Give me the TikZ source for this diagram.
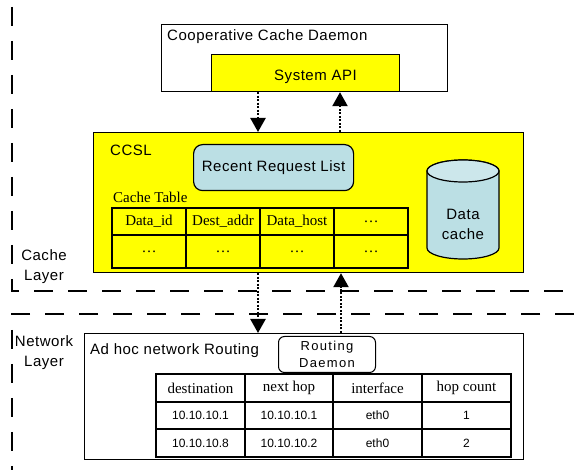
\documentclass[tikz,border=0pt]{standalone}
\usepackage{fontspec}
\setmainfont{Liberation Serif}
\setsansfont{Liberation Sans}
\newfontfamily\widesans[LetterSpace=3.5]{Liberation Sans}
\newfontfamily\widersans[LetterSpace=10]{Liberation Sans}
\usetikzlibrary{arrows.meta}

\definecolor{apiyellow}{RGB}{255,255,0}
\definecolor{listblue}{RGB}{187,223,228}

\tikzset{
        block/.style={draw, line width=1.2pt, rectangle, inner sep=0pt, anchor=north west},
        big/.style={font=\widesans\fontsize{15}{20}\selectfont, inner sep=0pt},
        small/.style={font=\sffamily\fontsize{12}{14}\selectfont},
        tab/.style={font=\rmfamily\fontsize{15}{18}\selectfont},
        ctcell/.style={draw, line width=1.4pt, inner sep=0pt, minimum width=74pt, minimum height=#1, tab},
        rtcell/.style={draw, line width=1.4pt, inner sep=0pt, minimum width=89pt, minimum height=28pt},
        flow/.style={line width=2.4pt, dash pattern=on 2pt off 1.5pt, -{Triangle[length=14pt,width=15pt]}},
        layer/.style={line width=1.3pt, dash pattern=on 19pt off 15pt},
        drum/.style={draw, line width=1.2pt, fill=listblue},
}

\begin{document}
\begin{tikzpicture}[x=1pt, y=-1pt]
        \useasboundingbox (0,0) rectangle (574,470);

        \node[block, minimum width=286pt, minimum height=67pt] (daemon) at (161,24) {};
        \node[big, anchor=base west] (daemontitle) at (167,40.7) {Cooperative Cache Daemon};
        \node[block, fill=apiyellow, minimum width=188pt, minimum height=37pt] (sysapi) at (211,54) {};
        \node[big, anchor=base] (sysapititle) at (315.5,81) {System API};

        \node[block, fill=apiyellow, minimum width=430pt, minimum height=140pt] (ccsl) at (93,132) {};
        \node[big, anchor=base west] (ccsltitle) at (110,155.5) {CCSL};
        \node[block, fill=listblue, rounded corners=9pt, minimum width=160pt, minimum height=46pt, big] (request) at (193,144) {Recent Request List};
        \node[tab, inner sep=0pt, anchor=base west] (cachetitle) at (113,202.3) {Cache Table};

        \node[ctcell=27pt] (ctid) at (149,221.5) {Data\_id};
        \node[ctcell=27pt] (ctdest) at (223,221.5) {Dest\_addr};
        \node[ctcell=27pt] (cthost) at (297,221.5) {Data\_host};
        \node[ctcell=27pt] (ctmore) at (371,221.5) {\dots};
        \node[ctcell=33pt] (ctid2) at (149,251.5) {\dots};
        \node[ctcell=33pt] (ctdest2) at (223,251.5) {\dots};
        \node[ctcell=33pt] (cthost2) at (297,251.5) {\dots};
        \node[ctcell=33pt] (ctmore2) at (371,251.5) {\dots};

        \path[drum] (427,171) -- (427,248) arc[start angle=180, end angle=360, x radius=36pt, y radius=11pt] -- (499,171) arc[start angle=0, end angle=180, x radius=36pt, y radius=11pt] -- cycle;
        \path[drum, fill=listblue!75!white] (463,171) ellipse[x radius=36pt, y radius=11pt];
        \node[big, align=center] (datacache) at (463,224) {Data\\cache};

        \node[big, align=center] (cachelayer) at (44,266.8) {Cache\\Layer};
        \node[big, align=center] (netlayer) at (44,352.6) {Network\\Layer};

        \node[block, minimum width=439pt, minimum height=126pt] (adhoc) at (84,333) {};
        \node[big, anchor=base west] (adhoctitle) at (90,354.3) {Ad hoc network Routing};
        \node[block, line width=1pt, rounded corners=6pt, minimum width=97pt, minimum height=36pt, font=\widersans\fontsize{13}{17.3}\selectfont, align=center] (routing) at (278,336) {Routing\\Daemon};

        \node[rtcell, tab] (rtdest) at (200.5,388) {destination};
        \node[rtcell, tab] (rtnext) at (289,388) {next hop};
        \node[rtcell, tab] (rtif) at (377.5,388) {interface};
        \node[rtcell, tab] (rtcount) at (466.5,388) {hop count};
        \node[rtcell, small] (rtdest1) at (200.5,415.5) {10.10.10.1};
        \node[rtcell, small] (rtnext1) at (289,415.5) {10.10.10.1};
        \node[rtcell, small] (rtif1) at (377.5,415.5) {eth0};
        \node[rtcell, small] (rtcount1) at (466.5,415.5) {1};
        \node[rtcell, small] (rtdest2) at (200.5,443) {10.10.10.8};
        \node[rtcell, small] (rtnext2) at (289,443) {10.10.10.2};
        \node[rtcell, small] (rtif2) at (377.5,443) {eth0};
        \node[rtcell, small] (rtcount2) at (466.5,443) {2};

        \path[draw, flow] ([xshift=47pt]sysapi.south west) -- ([xshift=47pt]sysapi.south west |- ccsl.north);
        \path[draw, flow] ([xshift=129pt]sysapi.south west |- ccsl.north) -- ([xshift=129pt]sysapi.south west);
        \path[draw, flow] ([xshift=165pt]ccsl.south west) -- ([xshift=165pt]ccsl.south west |- adhoc.north);
        \path[draw, flow] ([xshift=248pt]ccsl.south west |- adhoc.north) -- ([xshift=248pt]ccsl.south west);

        \draw[layer] (12,7) -- (12,291) -- (574,291);
        \draw[layer] (574,314) -- (12,314) -- (12,470);
\end{tikzpicture}
\end{document}
